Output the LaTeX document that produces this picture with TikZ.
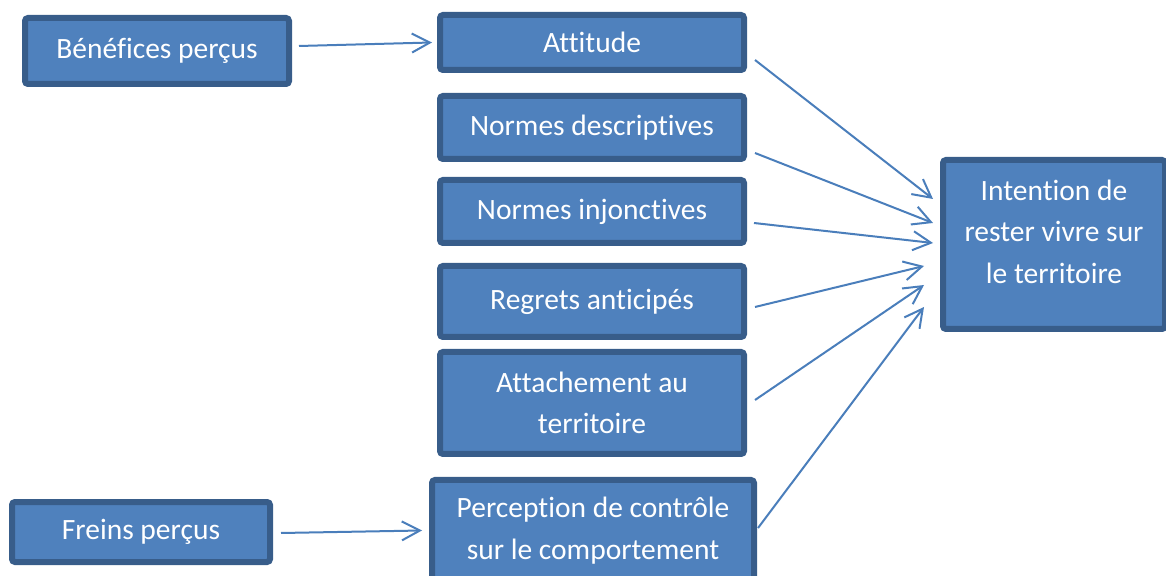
\documentclass[tikz,border=0pt]{standalone}
\usepackage{fontspec}
\setmainfont{Carlito}[Ligatures=NoCommon]
\usetikzlibrary{positioning,arrows.meta}
\definecolor{boxfill}{HTML}{4F81BD}
\definecolor{boxline}{HTML}{385D8A}
\definecolor{arrline}{HTML}{4A7EBB}

\begin{document}
\begin{tikzpicture}[x=0.5pt,y=-0.5pt,
    font=\fontsize{14.75}{20.75}\selectfont,
    b/.style={draw=boxline,fill=boxfill,line width=3pt,rounded corners=1.5pt,text=white,align=center,inner sep=0pt},%
    t/.style={text=white,align=center,inner sep=0pt},%
    f/.style={-{Straight Barb[length=9pt,width=9.5pt]},line width=1pt,draw=arrline}]
    \useasboundingbox (0,0) rectangle (1166,576);
    \node[b,minimum width=132pt,minimum height=33pt] (ben) at (157,51) {Bénéfices perçus};
    \node[b,minimum width=129pt,minimum height=30pt] (frein) at (141,532) {Freins perçus};

    \node[b,minimum width=152pt,minimum height=27.5pt] (att) at (592,42.5) {Attitude};
    \node[b,minimum width=152pt,minimum height=31.5pt] (ndesc) at (592,127.5) {Normes descriptives};
    \node[b,minimum width=152pt,minimum height=31.5pt] (ninj) at (592,211.5) {Normes injonctives};
    \node[b,minimum width=152pt,minimum height=35.5pt] (reg) at (592,301.5) {Regrets anticipés};
    \node[b,minimum width=152pt,minimum height=51pt] (attach) at (592,403) {Attachement au\\territoire};
    \node[b,minimum width=161pt,minimum height=50.5pt] (perc) at (593,530.5) {Perception de contrôle\\sur le comportement};

    \node[b,minimum width=111pt,minimum height=84.5pt] (int) at (1054,244.5) {};
    \node[t] (inttxt) at ([shift={(0,-13)}]int.center) {Intention de\\rester vivre sur\\le territoire};

    \draw[f] ([shift={(7,-5)}]ben.east) -- ([shift={(-5,0)}]att.west);
    \draw[f] ([shift={(8,1)}]frein.east) -- ([shift={(-7,0)}]perc.west);

    \draw[f] ([shift={(8,17.5)}]att.east) -- ([shift={(-7,-45.5)}]int.west);
    \draw[f] ([shift={(8,25.5)}]ndesc.east) -- ([shift={(-7,-21.5)}]int.west);
    \draw[f] ([shift={(7,11.5)}]ninj.east) -- ([shift={(-7,-1.5)}]int.west);
    \draw[f] ([shift={(8,5.5)}]reg.east) -- ([shift={(-16,21.5)}]int.west);
    \draw[f] ([shift={(8,-3)}]attach.east) -- ([shift={(-16,40.5)}]int.west);
    \draw[f] ([shift={(1,-2.5)}]perc.east) -- ([shift={(-16,62.5)}]int.west);
\end{tikzpicture}
\end{document}
